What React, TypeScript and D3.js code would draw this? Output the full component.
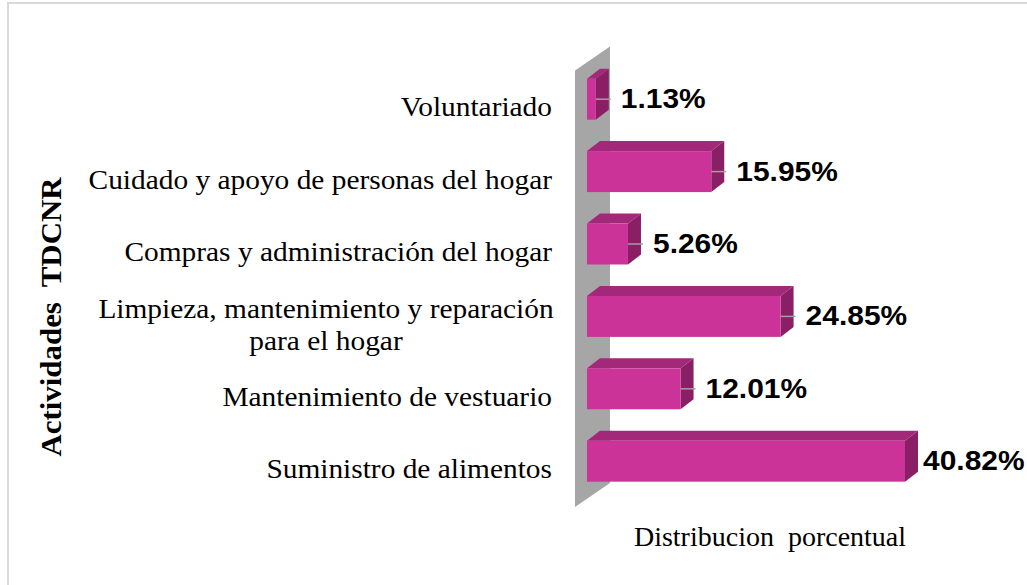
import React from "react";
import * as d3 from "d3";

const categories: string[][] = [
  ["Voluntariado"],
  ["Cuidado y apoyo de personas del hogar"],
  ["Compras y administración del hogar"],
  ["Limpieza, mantenimiento y reparación", "para el hogar"],
  ["Mantenimiento de vestuario"],
  ["Suministro de alimentos"],
];
const values: number[] = [1.13, 15.95, 5.26, 24.85, 12.01, 40.82];
const valueLabels: string[] = ["1.13%", "15.95%", "5.26%", "24.85%", "12.01%", "40.82%"];
const xTitle = "Distribucion  porcentual";
const yTitle = "Actividades  TDCNR";

const W = 1027;
const H = 585;

export default function App() {
  const x = d3.scaleLinear().domain([0, 40.82]).range([587, 905]);
  const y = d3
    .scaleBand<number>()
    .domain(d3.range(values.length))
    .range([63, 497.4])
    .paddingInner(0.434)
    .paddingOuter(0.217);
  const bw = y.bandwidth();
  const dx = 13;
  const dy = -10;
  const wallX = x(0) - 12;
  const wallTop = (y.range()[0] as number) + 7.5;
  const wallBot = (y.range()[1] as number) + 9.5;
  const wdx = 35;
  const wdy = -24;
  const wall = `M${wallX},${wallTop} L${wallX + wdx},${wallTop + wdy} L${wallX + wdx},${wallBot + wdy} L${wallX},${wallBot} Z`;

  const front = "#CC3399";
  const top = "#A2287A";
  const side = "#8A1F66";
  const serif = "'Liberation Serif', 'Times New Roman', serif";

  return (
    <svg
      width={W}
      height={H}
      style={{ position: "absolute", left: 0, top: 0, background: "#fff" }}
    >
      <rect x={0} y={0} width={W} height={H} fill="#fff" />
      <rect x={8} y={3} width={1040} height={600} fill="none" stroke="#d9d9d9" strokeWidth={2} />
      <path d={wall} fill="#A6A6A6" />
      {values.map((v, i) => {
        const y0 = y(i) as number;
        const y1 = y0 + bw;
        const x0 = x(0);
        const x1 = x(v);
        const cy = y0 + bw / 2;
        return (
          <g key={i}>
            <path
              d={`M${x0},${y0} L${x0 + dx},${y0 + dy} L${x1 + dx},${y0 + dy} L${x1},${y0} Z`}
              fill={top}
            />
            <path
              d={`M${x1},${y0} L${x1 + dx},${y0 + dy} L${x1 + dx},${y1 + dy} L${x1},${y1} Z`}
              fill={side}
            />
            <rect x={x0} y={y0} width={x1 - x0} height={bw} fill={front} />
            {i !== values.length - 1 && (
              <line x1={x1} x2={x1 + 15} y1={cy} y2={cy} stroke="#A0A0A0" strokeWidth={1.5} />
            )}
            <text
              transform={`translate(${x1 + (i === values.length - 1 ? 18 : 25)},${cy + 9}) scale(1.07,1)`}
              fontFamily="'Liberation Sans', Arial, sans-serif"
              fontWeight="bold"
              fontSize={28}
              fill="#000"
            >
              {valueLabels[i]}
            </text>
          </g>
        );
      })}
      {categories.map((lines, i) => {
        const cy = (y(i) as number) + bw / 2;
        if (lines.length === 1) {
          return (
            <text
              key={i}
              transform={`translate(552,${cy + 17}) scale(1.05,1)`}
              textAnchor="end"
              fontFamily={serif}
              fontSize={28}
              fill="#000"
            >
              {lines[0]}
            </text>
          );
        }
        return (
          <g key={i} transform={`translate(326,${cy + 2}) scale(1.05,1)`}>
            <text textAnchor="middle" fontFamily={serif} fontSize={28} fill="#000">
              {lines.map((l, j) => (
                <tspan key={j} x={0} y={j * 32}>
                  {l}
                </tspan>
              ))}
            </text>
          </g>
        );
      })}
      <text
        x={770}
        y={546}
        textAnchor="middle"
        fontFamily={serif}
        fontSize={28}
        fill="#000"
        style={{ whiteSpace: "pre" }}
      >
        {xTitle}
      </text>
      <text
        transform="translate(61,317) rotate(-90) scale(1.03,1)"
        textAnchor="middle"
        fontFamily={serif}
        fontWeight="bold"
        fontSize={30}
        fill="#000"
        style={{ whiteSpace: "pre" }}
      >
        {yTitle}
      </text>
    </svg>
  );
}
